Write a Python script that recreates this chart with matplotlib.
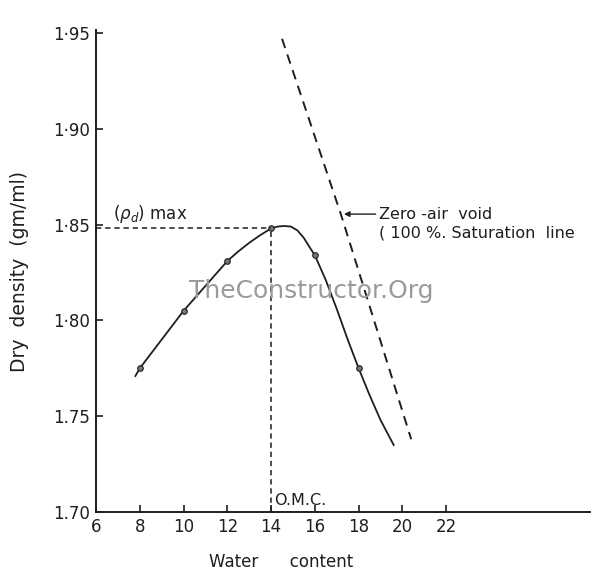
"""Compaction curve: dry density vs water content."""
import matplotlib
matplotlib.use("Agg")
import matplotlib.pyplot as plt

# test points
water = [8, 10, 12, 14, 16, 18]
density = [1.775, 1.805, 1.831, 1.848, 1.834, 1.775]

# smooth compaction curve
curve_w = [7.8, 8, 9, 10, 11, 12, 12.5, 13, 13.5, 14, 14.3, 14.6, 14.9,
           15.2, 15.5, 15.8, 16, 16.5, 17, 17.5, 18, 18.5, 19, 19.6]
curve_d = [1.771, 1.775, 1.790, 1.805, 1.818, 1.831, 1.836, 1.8405, 1.8445,
           1.848, 1.849, 1.8493, 1.849, 1.847, 1.843, 1.8375, 1.834, 1.821,
           1.806, 1.790, 1.775, 1.761, 1.748, 1.735]

# zero-air-void line
zav_w = [14.5, 17.2, 20.4]
zav_d = [1.947, 1.855, 1.738]

omc = 14
rho_max = 1.848

x_ticks = [6, 8, 10, 12, 14, 16, 18, 20, 22]
y_ticks = [1.70, 1.75, 1.80, 1.85, 1.90, 1.95]
y_tick_labels = ["1.70", "1.75", "1·80", "1·85", "1·90", "1·95"]

ink = "#1e1e1e"

fig = plt.figure(figsize=(5.95, 5.76), dpi=100)
ax = fig.add_axes([0.1613, 0.111, 0.830, 0.837])

ax.plot(curve_w, curve_d, color=ink, lw=1.3)
ax.plot(water, density, "o", ms=4, mfc="#777777", mec=ink, mew=0.8)
ax.plot(zav_w, zav_d, color=ink, lw=1.4, ls=(0, (5, 3.5)))

# O.M.C. and max dry density guides
ax.plot([6, omc], [rho_max, rho_max], color=ink, lw=1.1, ls=(0, (3.5, 2.5)))
ax.plot([omc, omc], [1.70, rho_max], color=ink, lw=1.1, ls=(0, (3.5, 2.5)))

ax.text(6.8, rho_max + 0.002, r"($\rho_d$) max", fontsize=12, color=ink,
        va="bottom", ha="left")
ax.text(omc + 0.15, 1.702, "O.M.C.", fontsize=11.5, color=ink,
        va="bottom", ha="left")

ax.annotate("", xy=(17.2, 1.8555), xytext=(18.9, 1.8555),
            arrowprops=dict(arrowstyle="-|>", color=ink, lw=1.0,
                            mutation_scale=8))
ax.text(18.95, 1.8555, "Zero -air  void", fontsize=11.5, color=ink,
        va="center", ha="left")
ax.text(18.95, 1.8455, "( 100 %. Saturation  line", fontsize=11.5,
        color=ink, va="center", ha="left")

# watermark
ax.text(15.85, 1.8155, "TheConstructor.Org", fontsize=18, color="#9a9a9a",
        ha="center", va="center")

ax.set_xlim(6, 28.56)
ax.set_ylim(1.70, 1.9516)
ax.set_xticks(x_ticks)
ax.set_yticks(y_ticks)
ax.set_yticklabels(y_tick_labels)
ax.tick_params(direction="in", length=5, width=1.2, colors=ink,
               labelsize=12, pad=4)
for side in ["top", "right"]:
    ax.spines[side].set_visible(False)
for side in ["left", "bottom"]:
    ax.spines[side].set_linewidth(1.4)
    ax.spines[side].set_color(ink)

ax.set_ylabel("Dry  density  (gm/ml)", fontsize=13.5, color=ink)
ax.yaxis.set_label_coords(-0.135, 0.5)
ax.set_xlabel("Water      content", fontsize=12, color=ink)
ax.xaxis.set_label_coords(0.375, -0.085)

fig.savefig("out.png", dpi=100)
